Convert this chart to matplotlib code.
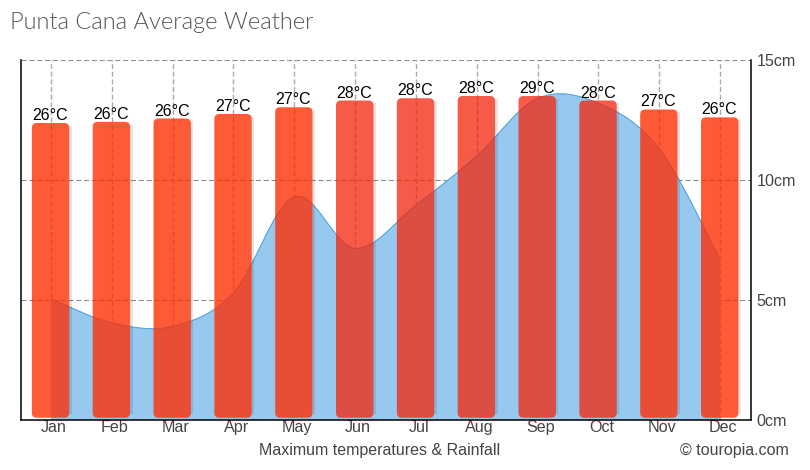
import matplotlib
matplotlib.use("Agg")
import matplotlib.pyplot as plt
from matplotlib.patches import FancyBboxPatch, PathPatch, Rectangle
from matplotlib.path import Path
from matplotlib.transforms import offset_copy

months = ["Jan", "Feb", "Mar", "Apr", "May", "Jun", "Jul", "Aug", "Sep", "Oct", "Nov", "Dec"]
rain_cm = [5.05, 4.05, 3.9, 5.3, 9.3, 7.15, 8.95, 11.0, 13.4, 13.2, 11.3, 6.7]
temp_bar = [26.4, 26.5, 26.8, 27.2, 27.8, 28.4, 28.6, 28.8, 28.8, 28.4, 27.6, 26.9]
temp_labels = [26, 26, 26, 27, 27, 28, 28, 28, 29, 28, 27, 26]
rain_ticks = [0, 5, 10, 15]

W, H = 810, 470
L, R, T, B = 20.5, 750.5, 60.0, 420.0
fig = plt.figure(figsize=(W / 100, H / 100), dpi=100)
plt.rcParams["font.family"] = ["Liberation Sans", "DejaVu Sans"]
rect = [L / W, 1 - B / H, (R - L) / W, (B - T) / H]
ax = fig.add_axes(rect)
ax.set_xlim(0, 12)
ax.set_ylim(0, 15)

xs = [i + 0.5 for i in range(12)]

# grid
for t in rain_ticks[1:]:
    ax.axhline(t, color="#8c8c8c", lw=0.75, dashes=(5, 2.5), zorder=1)
for x in xs:
    ax.axvline(x, color="#aaaaaa", lw=1.0, dashes=(3.6, 1.9), zorder=1)

# smooth rainfall curve through the monthly values
pts = list(zip(xs, rain_cm))
verts = [pts[0]]
codes = [Path.MOVETO]
k = 0.17
for i in range(len(pts) - 1):
    p0 = pts[max(i - 1, 0)]
    p1 = pts[i]
    p2 = pts[i + 1]
    p3 = pts[min(i + 2, len(pts) - 1)]
    verts += [
        (p1[0] + k * (p2[0] - p0[0]), p1[1] + k * (p2[1] - p0[1])),
        (p2[0] - k * (p3[0] - p1[0]), p2[1] - k * (p3[1] - p1[1])),
        p2,
    ]
    codes += [Path.CURVE4] * 3
line_verts = list(verts)
line_codes = list(codes)
verts += [(xs[-1], 0), (xs[0], 0), (xs[0], rain_cm[0])]
codes += [Path.LINETO, Path.LINETO, Path.CLOSEPOLY]
ax.add_patch(PathPatch(Path(verts, codes), fc="#97c9ef", ec="none", zorder=2))
ax.add_patch(PathPatch(Path(line_verts, line_codes), fc="none", ec="#4fa3e0", lw=0.8, zorder=3))

ax.spines["top"].set_visible(False)
for s in ["left", "right", "bottom"]:
    ax.spines[s].set_color("black")
    ax.spines[s].set_linewidth(1.1)

ax.yaxis.tick_right()
ax.set_yticks(rain_ticks)
ax.set_yticklabels([f"{t}cm" for t in rain_ticks], fontsize=11.6, color="#444444")
ax.tick_params(axis="y", length=0, pad=4.5)
ax.set_xticks(xs)
ax.set_xticklabels(months, fontsize=11.6, color="#444444")
ax.tick_params(axis="x", length=0, pad=0)
for lab in ax.get_xticklabels():
    lab.set_transform(offset_copy(lab.get_transform(), fig=fig, x=3, y=0, units="dots"))

# temperature bars on their own hidden scale
ax2 = fig.add_axes(rect)
ax2.patch.set_visible(False)
ax2.set_xlim(0, 12)
ax2.set_ylim(0, 32)
ax2.axis("off")

bar_w = 0.615
px_x = (R - L) / 12
px_y = (B - T) / 32
radius = 5 / px_x
aspect = px_x / px_y
base = 0.2
shadow_w = 2.5 / px_x
for x, v, lab in zip(xs, temp_bar, temp_labels):
    box = dict(boxstyle=f"round,pad=0,rounding_size={radius}", mutation_aspect=aspect)
    x0 = x - bar_w / 2 - 0.006
    ax2.add_patch(Rectangle((x0 + bar_w, base + 0.3), shadow_w, v - base - 0.55,
                            fc="black", ec="none", alpha=0.1, zorder=2))
    if lab >= 28:
        col = (244 / 255, 35 / 255, 10 / 255)
        alpha = 0.75
    else:
        col = (255 / 255, 44 / 255, 0)
        alpha = 0.78
    ax2.add_patch(FancyBboxPatch((x0, base), bar_w, v - base, fc=col, ec="none", alpha=alpha,
                                 zorder=3, **box))
    ax2.annotate(f"{lab}°C", (x, v), xytext=(-0.5, 0), textcoords="offset points",
                 ha="center", va="bottom", fontsize=11.5, color="black", zorder=5)

fig.text(10 / W, 1 - 29 / H, "Punta Cana Average Weather", fontfamily="Lato", fontweight=300,
         fontsize=17, color="#555555", ha="left", va="baseline")
fig.text(380 / W, 1 - 451 / H, "Maximum temperatures & Rainfall", fontsize=11.5, color="#444444",
         ha="center", va="center")
fig.text(788.5 / W, 1 - 451 / H, "© touropia.com", fontsize=11.5, color="#444444",
         ha="right", va="center")

fig.savefig("out.png", dpi=100)
